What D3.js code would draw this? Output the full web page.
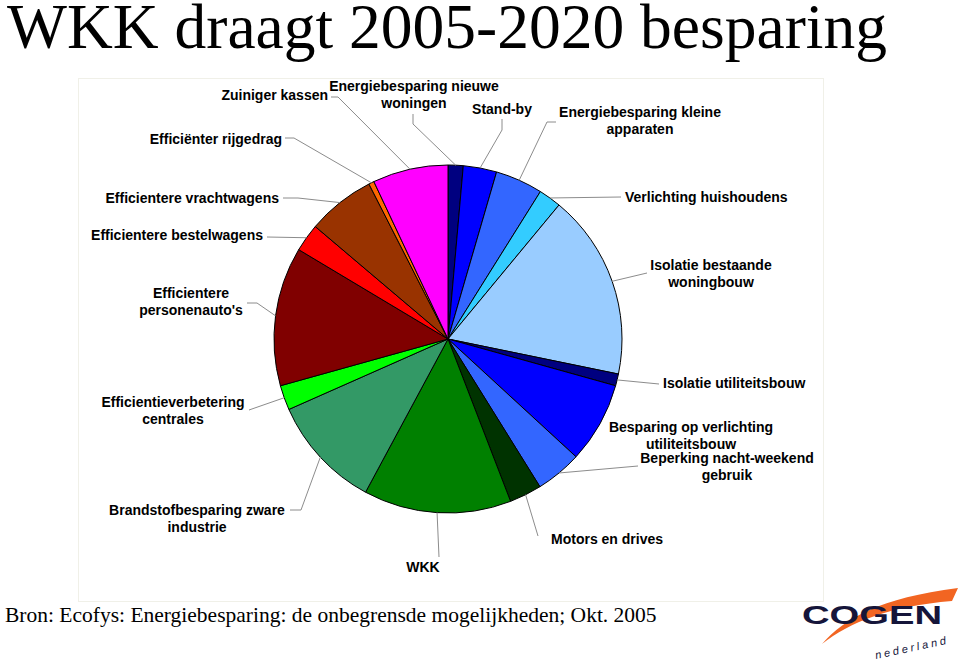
<!DOCTYPE html>
<html>
<head>
<meta charset="utf-8">
<script src="https://cdn.jsdelivr.net/npm/d3@7/dist/d3.min.js"></script>
<style>
  html, body { margin: 0; padding: 0; background: #ffffff; }
  svg { display: block; }
</style>
</head>
<body>
<svg id="chart" width="960" height="663"></svg>
<script>
// ---- Data (clockwise from 12 o'clock) ----
const categories = [
  "Energiebesparing nieuwe woningen",
  "Stand-by",
  "Energiebesparing kleine apparaten",
  "Verlichting huishoudens",
  "Isolatie bestaande woningbouw",
  "Isolatie utiliteitsbouw",
  "Besparing op verlichting utiliteitsbouw",
  "Beperking nacht-weekend gebruik",
  "Motors en drives",
  "WKK",
  "Brandstofbesparing zware industrie",
  "Efficientieverbetering centrales",
  "Efficientere personenauto's",
  "Efficientere bestelwagens",
  "Efficientere vrachtwagens",
  "Efficiënter rijgedrag",
  "Zuiniger kassen"
];
const values = [1.4, 3.1, 4.4, 2.1, 17.2, 1.1, 7.5, 4.3, 3.0, 13.7, 10.5, 2.3, 12.9, 2.6, 6.3, 0.5, 7.0];
const titleText = "WKK draagt 2005-2020 besparing";
const sourceText = "Bron: Ecofys: Energiebesparing: de onbegrensde mogelijkheden; Okt. 2005";

// ---- Styling / layout ----
const colors = ["#000080", "#0000ff", "#3366ff", "#33ccff", "#99ccff", "#000080", "#0000ff", "#3366ff",
                "#003300", "#008000", "#339966", "#00ff00", "#800000", "#ff0000", "#993300", "#ff6600", "#ff00ff"];

// label text lines, position, anchor, leader bend points (label side -> pie)
const labelLayout = [
  { lines: ["Energiebesparing nieuwe", "woningen"], x: 414, y: 91, anchor: "middle", leader: [[413, 114], [413, 124]] },
  { lines: ["Stand-by"], x: 502, y: 114, anchor: "middle", leader: [[502, 119], [502, 130]] },
  { lines: ["Energiebesparing kleine", "apparaten"], x: 640, y: 117, anchor: "middle", leader: [[556, 122], [547, 122]] },
  { lines: ["Verlichting huishoudens"], x: 625, y: 202, anchor: "start", leader: [[621, 197]] },
  { lines: ["Isolatie bestaande", "woningbouw"], x: 711, y: 270, anchor: "middle", leader: [[647, 273]] },
  { lines: ["Isolatie utiliteitsbouw"], x: 663, y: 388, anchor: "start", leader: [[659, 384]] },
  { lines: ["Besparing op verlichting", "utiliteitsbouw"], x: 691, y: 432, anchor: "middle", leader: null },
  { lines: ["Beperking nacht-weekend", "gebruik"], x: 727, y: 463, anchor: "middle", leader: [[638, 466]] },
  { lines: ["Motors en drives"], x: 551, y: 544, anchor: "start", leader: [[538, 536]] },
  { lines: ["WKK"], x: 423, y: 572, anchor: "middle", leader: [[439, 557]] },
  { lines: ["Brandstofbesparing zware", "industrie"], x: 197, y: 515, anchor: "middle", leader: [[290, 510], [301, 510]] },
  { lines: ["Efficientieverbetering", "centrales"], x: 173, y: 407, anchor: "middle", leader: [[249, 410]] },
  { lines: ["Efficientere", "personenauto's"], x: 191, y: 298, anchor: "middle", leader: [[247, 303], [257, 303]] },
  { lines: ["Efficientere bestelwagens"], x: 263, y: 240, anchor: "end", leader: [[267, 237]] },
  { lines: ["Efficientere vrachtwagens"], x: 279, y: 203, anchor: "end", leader: [[283, 198], [298, 198]] },
  { lines: ["Efficiënter rijgedrag"], x: 282, y: 144, anchor: "end", leader: [[285, 138], [294, 138]] },
  { lines: ["Zuiniger kassen"], x: 328, y: 100, anchor: "end", leader: [[331, 97], [338, 97]] }
];

const svg = d3.select("#chart");
const cx = 448, cy = 339, r = 174;

// Plot area faint border
svg.append("rect")
  .attr("x", 78.5).attr("y", 78.5).attr("width", 745).attr("height", 523)
  .attr("fill", "none").attr("stroke", "#f0f0e8").attr("stroke-width", 1);

// Title
svg.append("text")
  .attr("x", 7).attr("y", 48)
  .attr("font-family", "'Liberation Serif', 'Times New Roman', serif")
  .attr("font-size", 63.5)
  .attr("fill", "#000")
  .text(titleText);

// Source
svg.append("text")
  .attr("x", 5).attr("y", 622)
  .attr("font-family", "'Liberation Serif', 'Times New Roman', serif")
  .attr("font-size", 21.5)
  .attr("fill", "#000")
  .text(sourceText);

// Pie
const pie = d3.pie().sort(null).value(d => d.value).startAngle(0).endAngle(2 * Math.PI);
const data = categories.map((c, i) => ({ name: c, value: values[i], color: colors[i], layout: labelLayout[i] }));
const arcs = pie(data);
const arc = d3.arc().innerRadius(0).outerRadius(r);
const edgeArc = d3.arc().innerRadius(r).outerRadius(r);

const g = svg.append("g").attr("transform", `translate(${cx},${cy})`);
g.selectAll("path.slice")
  .data(arcs)
  .join("path")
  .attr("class", "slice")
  .attr("d", arc)
  .attr("fill", d => d.data.color)
  .attr("stroke", "#000")
  .attr("stroke-width", 1)
  .attr("stroke-linejoin", "round");

// Leaders
const line = d3.line();
const leaders = svg.append("g");
arcs.forEach(d => {
  const L = d.data.layout;
  if (!L.leader) return;
  const [ex, ey] = edgeArc.centroid(d);
  const pts = L.leader.concat([[cx + ex, cy + ey]]);
  leaders.append("path")
    .attr("d", line(pts))
    .attr("fill", "none")
    .attr("stroke", "#8c8c8c")
    .attr("stroke-width", 1);
});

// Labels
const labels = svg.append("g")
  .attr("font-family", "'Liberation Sans', Arial, Helvetica, sans-serif")
  .attr("font-weight", "bold")
  .attr("font-size", 14)
  .attr("fill", "#000");
arcs.forEach(d => {
  const L = d.data.layout;
  const t = labels.append("text")
    .attr("x", L.x).attr("y", L.y)
    .attr("text-anchor", L.anchor);
  L.lines.forEach((ln, j) => {
    t.append("tspan").attr("x", L.x).attr("dy", j === 0 ? 0 : 17).text(ln);
  });
});

// Logo
const logo = svg.append("g");
logo.append("path")
  .attr("d", "M822,644 C845,618 880,598 958,588 L952,601 C890,606 850,622 822,644 Z")
  .attr("fill", "#f26522");
logo.append("text")
  .attr("x", 802).attr("y", 624)
  .attr("font-family", "'Liberation Sans', Arial, sans-serif")
  .attr("font-weight", "bold")
  .attr("font-size", 26)
  .attr("fill", "#15153a")
  .attr("textLength", 140)
  .attr("lengthAdjust", "spacingAndGlyphs")
  .text("COGEN");
logo.append("text")
  .attr("transform", "translate(876,659) rotate(-12)")
  .attr("font-family", "'Liberation Sans', Arial, sans-serif")
  .attr("font-style", "italic")
  .attr("font-size", 11)
  .attr("fill", "#15153a")
  .attr("textLength", 72)
  .attr("lengthAdjust", "spacing")
  .text("nederland");
</script>
</body>
</html>
